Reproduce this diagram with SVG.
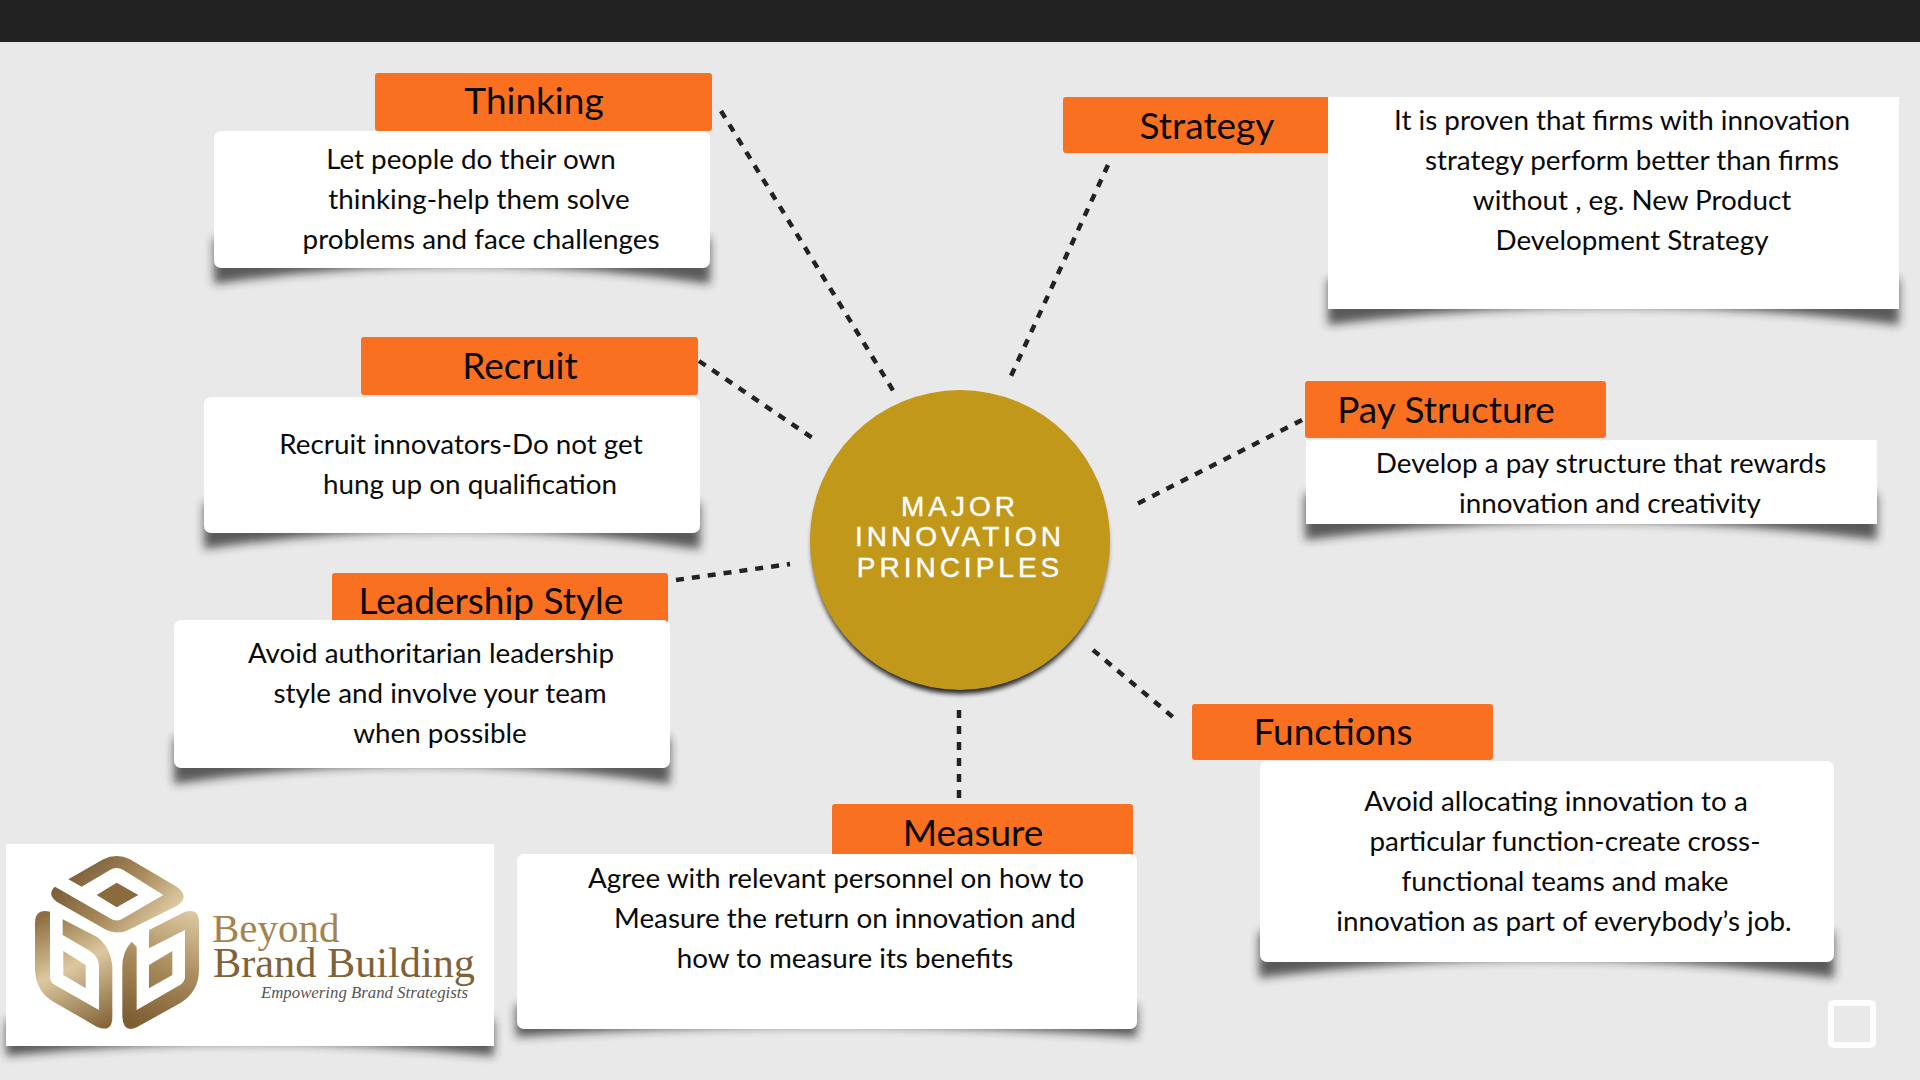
<svg xmlns="http://www.w3.org/2000/svg" width="1920" height="1080" viewBox="0 0 1920 1080">
<defs>
<style>
.o{fill:#f97120}
.w{fill:#fff}
.s{fill:#222;filter:url(#bl);opacity:.72}
.t{font-family:"Lato","Liberation Sans",sans-serif;font-size:37px;fill:#0a0a0a;text-anchor:middle}
.b{font-family:"Lato","Liberation Sans",sans-serif;font-size:27.8px;fill:#0a0a0a;text-anchor:middle}
.c{font-family:"Liberation Sans",sans-serif;font-size:28px;fill:#fff;stroke:#fff;stroke-width:.4;text-anchor:middle;letter-spacing:4px}
.l{fill:none;stroke:#222;stroke-width:4.5;stroke-dasharray:8 8}
</style>
<filter id="bl" x="-10%" y="-50%" width="120%" height="200%"><feGaussianBlur stdDeviation="5"/></filter>
<filter id="bc" x="-10%" y="-10%" width="120%" height="120%"><feGaussianBlur stdDeviation="2.5"/></filter>
<linearGradient id="g1" gradientUnits="userSpaceOnUse" x1="200" y1="110" x2="450" y2="340"><stop offset="0" stop-color="#6f5430"/><stop offset=".6" stop-color="#a98a5c"/><stop offset="1" stop-color="#dcc8a0"/></linearGradient>
<linearGradient id="g2" gradientUnits="userSpaceOnUse" x1="130" y1="290" x2="300" y2="630"><stop offset="0" stop-color="#8f6f40"/><stop offset=".45" stop-color="#dcc8a0"/><stop offset="1" stop-color="#846437"/></linearGradient>
<linearGradient id="g3" gradientUnits="userSpaceOnUse" x1="560" y1="270" x2="430" y2="620"><stop offset="0" stop-color="#dcc8a0"/><stop offset=".5" stop-color="#a98a5c"/><stop offset="1" stop-color="#7d5e33"/></linearGradient>
</defs>
<rect width="1920" height="1080" fill="#e9e9e9"/>
<rect width="1920" height="42" fill="#222"/>

<g id="connectors">
<path class="l" d="M721 111L894 392"/>
<path class="l" d="M1108 165L1011 376"/>
<path class="l" d="M699 361L817 441"/>
<path class="l" d="M676 580L790 564"/>
<path class="l" d="M1302 420L1133 506"/>
<path class="l" d="M1093 650L1174 718"/>
<path class="l" d="M959 710V803"/>
</g>

<g id="center">
<circle cx="960" cy="546" r="148" fill="#000" filter="url(#bc)" opacity=".85"/>
<circle cx="960" cy="540" r="150" fill="#c2981b"/>
<text class="c" x="960" y="516">MAJOR</text>
<text class="c" x="960" y="546">INNOVATION</text>
<text class="c" x="960" y="577">PRINCIPLES</text>
</g>

<g id="thinking">
<path class="s" d="M214 238H710V284Q462 247 214 284Z"/>
<rect class="o" x="375" y="73" width="337" height="58" rx="3"/>
<rect class="w" x="214" y="131" width="496" height="137" rx="7"/>
<text class="t" x="534" y="114">Thinking</text>
<text class="b" x="471" y="169">Let people do their own</text>
<text class="b" x="479" y="209">thinking-help them solve</text>
<text class="b" x="481" y="249">problems and face challenges</text>
</g>

<g id="strategy">
<path class="s" d="M1328 279H1899V325Q1613 288 1328 325Z"/>
<rect class="o" x="1063" y="97" width="270" height="56" rx="3"/>
<rect class="w" x="1328" y="97" width="571" height="212"/>
<text class="t" x="1207" y="139">Strategy</text>
<text class="b" x="1622" y="130">It is proven that firms with innovation</text>
<text class="b" x="1632" y="170">strategy perform better than firms</text>
<text class="b" x="1632" y="210">without , eg. New Product</text>
<text class="b" x="1632" y="250">Development Strategy</text>
</g>

<g id="recruit">
<path class="s" d="M204 503H700V549Q452 512 204 549Z"/>
<rect class="o" x="361" y="337" width="337" height="58" rx="3"/>
<rect class="w" x="204" y="397" width="496" height="136" rx="7"/>
<text class="t" x="520" y="379">Recruit</text>
<text class="b" x="461" y="454">Recruit innovators-Do not get</text>
<text class="b" x="470" y="494">hung up on qualification</text>
</g>

<g id="leadership">
<path class="s" d="M174 738H670V784Q422 747 174 784Z"/>
<rect class="o" x="332" y="573" width="336" height="60" rx="3"/>
<rect class="w" x="174" y="620" width="496" height="148" rx="7"/>
<text class="t" x="491" y="614">Leadership Style</text>
<text class="b" x="431" y="663">Avoid authoritarian leadership</text>
<text class="b" x="440" y="703">style and involve your team</text>
<text class="b" x="440" y="743">when possible</text>
</g>

<g id="pay">
<path class="s" d="M1305 494H1877V540Q1591 503 1305 540Z"/>
<rect class="o" x="1305" y="381" width="301" height="57" rx="3"/>
<rect class="w" x="1306" y="440" width="571" height="84"/>
<text class="t" x="1446" y="423">Pay Structure</text>
<text class="b" x="1601" y="473">Develop a pay structure that rewards</text>
<text class="b" x="1610" y="513">innovation and creativity</text>
</g>

<g id="functions">
<path class="s" d="M1259 932H1834V978Q1546 941 1259 978Z"/>
<rect class="o" x="1192" y="704" width="301" height="56" rx="3"/>
<rect class="w" x="1260" y="761" width="574" height="201" rx="7"/>
<text class="t" x="1333" y="745">Functions</text>
<text class="b" x="1556" y="811">Avoid allocating innovation to a</text>
<text class="b" x="1565" y="851">particular function-create cross-</text>
<text class="b" x="1565" y="891">functional teams and make</text>
<text class="b" x="1564" y="931">innovation as part of everybody’s job.</text>
</g>

<g id="measure">
<path class="s" d="M516 1005H1137V1037Q826 1015 516 1037Z"/>
<rect class="o" x="832" y="804" width="301" height="54" rx="3"/>
<rect class="w" x="517" y="854" width="620" height="175" rx="7"/>
<text class="t" x="973" y="846">Measure</text>
<text class="b" x="836" y="887.5">Agree with relevant personnel on how to</text>
<text class="b" x="845" y="927.5">Measure the return on innovation and</text>
<text class="b" x="845" y="967.5">how to measure its benefits</text>
</g>

<g id="logo">
<path class="s" d="M6 1020H494V1056Q250 1030 6 1056Z"/>
<rect class="w" x="6" y="844" width="488" height="202"/>
<g transform="translate(0 820) scale(.3333)">
<path fill="url(#g1)" fill-rule="evenodd" d="M205 178L310 118Q350 98 390 118L530 200Q572 230 530 258L385 330Q350 348 310 325L170 245Q140 222 165 200L330 295Q350 308 370 295L490 225L370 150Q350 138 330 150L245 200Z"/>
<path fill="#8a6b3e" d="M290 225L350 188L415 225L350 262Z"/>
<path fill="url(#g2)" d="M150 275Q105 265 105 310V450Q108 515 160 545L290 620Q337 640 337 590V440Q332 380 290 350L188 298V345L270 393Q297 410 297 440V570L165 495Q150 487 150 470Z"/>
<path fill="url(#g2)" d="M190 393L257 435V505L190 465Z"/>
<path fill="url(#g3)" d="M395 365Q367 395 367 440V590Q370 640 410 622L540 550Q597 515 597 450V300Q595 265 555 275L447 330V385L555 330V470Q555 485 540 495L410 570V380Z"/>
<path fill="url(#g3)" d="M447 435L517 393V465L447 505Z"/>
</g>
<text x="212" y="942" font-family="Liberation Serif,serif" font-size="41" fill="#a5834f">Beyond</text>
<text x="213" y="977" font-family="Liberation Serif,serif" font-size="42.3" fill="#7f6238">Brand Building</text>
<text x="261" y="998" font-family="Liberation Serif,serif" font-style="italic" font-size="16.8" fill="#555">Empowering Brand Strategists</text>
</g>

<rect id="square" x="1831" y="1003" width="42" height="42" rx="3" fill="none" stroke="#fff" stroke-width="6"/>
</svg>
